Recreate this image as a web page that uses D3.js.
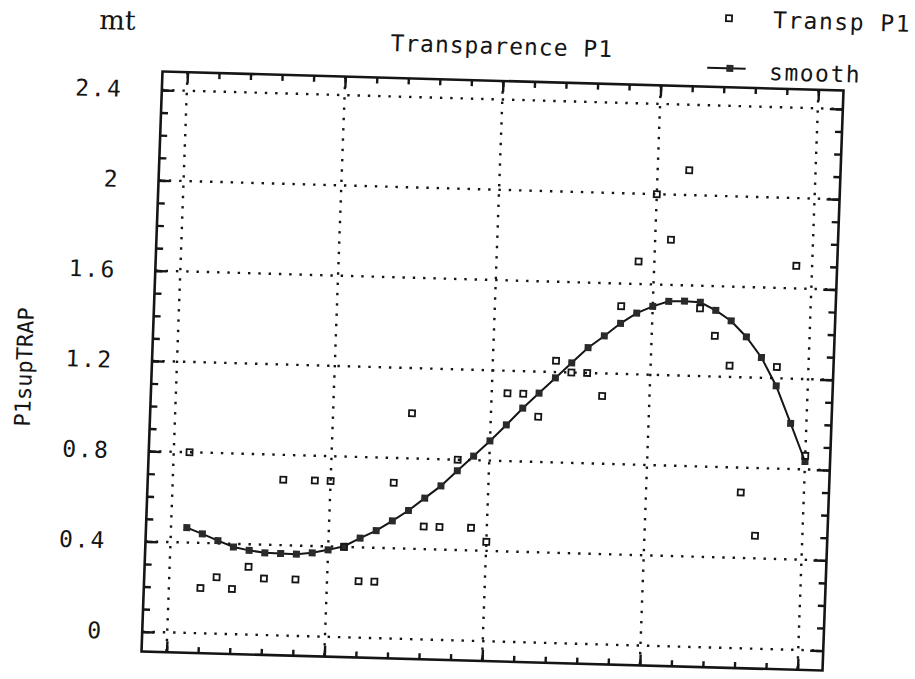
<!DOCTYPE html>
<html>
<head>
<meta charset="utf-8">
<script src="https://cdn.jsdelivr.net/npm/d3@7/dist/d3.min.js"></script>
<style>
  html, body { margin: 0; padding: 0; background: #fff; }
  svg { display: block; }
</style>
</head>
<body>
<svg id="chart" width="915" height="679"></svg>
<script>
// ---- data ----
const obsIndex = [1,2,3,4,5,6,7,8,9,10,11,12,13,14,15,16,17,18,19,20,
                  21,22,23,24,25,26,27,28,29,30,31,32,33,34,35,36,37,38,39,40];
const transpP1 = [0.80,0.20,0.25,0.20,0.30,0.25,0.69,0.25,0.69,0.69,
                  0.40,0.25,0.25,0.69,1.00,0.50,0.50,0.80,0.50,0.44,
                  1.10,1.10,1.00,1.25,1.20,1.20,1.10,1.50,1.70,2.00,
                  1.80,2.11,1.50,1.38,1.25,0.69,0.50,1.25,1.70,0.86];
const smoothP1 = [0.466,0.440,0.412,0.386,0.373,0.364,0.363,0.362,0.370,0.385,
                  0.403,0.441,0.476,0.521,0.569,0.626,0.682,0.751,0.818,0.887,
                  0.960,1.036,1.105,1.174,1.243,1.312,1.366,1.424,1.471,1.503,
                  1.527,1.530,1.527,1.493,1.448,1.379,1.290,1.166,1.002,0.835];
const yMajorTicks = [0, 0.4, 0.8, 1.2, 1.6, 2, 2.4];
const yTickLabels = ["0", "0.4", "0.8", "1.2", "1.6", "2", "2.4"];
const yMinorTicks = [0,0.1,0.2,0.3,0.4,0.5,0.6,0.7,0.8,0.9,1.0,1.1,1.2,1.3,1.4,1.5,1.6,1.7,1.8,1.9,2.0,2.1,2.2,2.3,2.4];
const xMajorTicks = [0, 10, 20, 30, 40];
const xMinorTicks = [0,2,4,6,8,10,12,14,16,18,20,22,24,26,28,30,32,34,36,38,40];
const titleText = "Transparence P1";
const yLabelText = "P1supTRAP";
const unitText = "mt";
const seriesNames = ["Transp P1", "smooth"];

// ---- layout ----
const W = 681, H = 580;
const ink = "#151515";
const svg = d3.select("#chart");
svg.append("rect").attr("width", 915).attr("height", 679).attr("fill", "#fff");

// scanned page is slightly rotated / skewed
const g = svg.append("g").attr("transform", "matrix(1,0.0279,-0.0362,1,162.5,71.5)");

const x = d3.scaleLinear().domain([-1.585, 41.585]).range([0, W]);
const y = d3.scaleLinear().domain([-0.088, 2.482]).range([H, 0]);

// grid (dotted)
const grid = g.append("g").attr("stroke", ink).attr("stroke-width", 2.4)
  .attr("stroke-dasharray", "2.4,7.9").attr("fill", "none");
grid.selectAll("line.h").data(yMajorTicks).join("line")
  .attr("x1", 0).attr("x2", W).attr("y1", d => y(d)).attr("y2", d => y(d));
grid.selectAll("line.v").data(xMajorTicks).join("line")
  .attr("y1", 0).attr("y2", H).attr("x1", d => x(d)).attr("x2", d => x(d));

// smooth line
const line = d3.line().x((d, i) => x(obsIndex[i])).y(d => y(d));
g.append("path").datum(smoothP1).attr("d", line)
  .attr("fill", "none").attr("stroke", ink).attr("stroke-width", 2);
g.append("g").selectAll("rect").data(smoothP1).join("rect")
  .attr("x", (d, i) => x(obsIndex[i]) - 3.5).attr("y", d => y(d) - 3.5)
  .attr("width", 7).attr("height", 7).attr("fill", "#2a2a2a");

// scatter
g.append("g").selectAll("rect").data(transpP1).join("rect")
  .attr("x", (d, i) => x(obsIndex[i]) - 3).attr("y", d => y(d) - 3)
  .attr("width", 6).attr("height", 6).attr("fill", "none")
  .attr("stroke", ink).attr("stroke-width", 1.8);

// axes with inward ticks
function styleAxis(sel) {
  sel.select(".domain").remove();
  sel.selectAll(".tick line").attr("stroke", ink).attr("stroke-width", 2.4);
}
const fontMono = "'DejaVu Sans Mono', monospace";

g.append("g").call(d3.axisLeft(y).tickValues(yMinorTicks).tickSize(-7).tickFormat("")).call(styleAxis);
const yl = g.append("g").call(d3.axisLeft(y).tickValues(yMajorTicks).tickSize(-12).tickPadding(39)
  .tickFormat((d, i) => yTickLabels[i])).call(styleAxis);
yl.selectAll("text").attr("font-family", fontMono).attr("font-size", 23)
  .attr("letter-spacing", 2).attr("fill", ink);

g.append("g").attr("transform", `translate(${W},0)`)
  .call(d3.axisRight(y).tickValues(yMinorTicks).tickSize(-7).tickFormat("")).call(styleAxis);
g.append("g").attr("transform", `translate(${W},0)`)
  .call(d3.axisRight(y).tickValues(yMajorTicks).tickSize(-13).tickFormat("")).call(styleAxis);

g.append("g").call(d3.axisTop(x).tickValues(xMinorTicks).tickSize(-6).tickFormat("")).call(styleAxis);
g.append("g").call(d3.axisTop(x).tickValues(xMajorTicks).tickSize(-11).tickFormat("")).call(styleAxis);
g.append("g").attr("transform", `translate(0,${H})`)
  .call(d3.axisBottom(x).tickValues(xMinorTicks).tickSize(-6).tickFormat("")).call(styleAxis);
g.append("g").attr("transform", `translate(0,${H})`)
  .call(d3.axisBottom(x).tickValues(xMajorTicks).tickSize(-11).tickFormat("")).call(styleAxis);

// frame
g.append("rect").attr("x", 0).attr("y", 0).attr("width", W).attr("height", H)
  .attr("fill", "none").attr("stroke", ink).attr("stroke-width", 2.6);

// texts
g.append("text").attr("x", -65).attr("y", -40.8).text(unitText)
  .attr("font-family", "'DejaVu Serif', serif").attr("font-size", 27).attr("fill", ink);
g.append("text").attr("x", 338).attr("y", -26.8).attr("text-anchor", "middle").text(titleText)
  .attr("font-family", fontMono).attr("font-size", 23).attr("letter-spacing", 1).attr("fill", ink);
g.append("text").attr("transform", "translate(-119.8,299) rotate(-90)").attr("text-anchor", "middle")
  .text(yLabelText).attr("font-family", fontMono).attr("font-size", 22).attr("fill", ink);

// legend
const lg = g.append("g");
lg.append("rect").attr("x", 564 - 3).attr("y", -69 - 3).attr("width", 6).attr("height", 6)
  .attr("fill", "none").attr("stroke", ink).attr("stroke-width", 1.8);
lg.append("text").attr("x", 608).attr("y", -60.5).text(seriesNames[0])
  .attr("font-family", fontMono).attr("font-size", 23).attr("letter-spacing", 1.5).attr("fill", ink);
lg.append("line").attr("x1", 544).attr("x2", 582.5).attr("y1", -19).attr("y2", -19)
  .attr("stroke", ink).attr("stroke-width", 2);
lg.append("rect").attr("x", 566.7 - 3.5).attr("y", -19 - 3.5).attr("width", 7).attr("height", 7)
  .attr("fill", "#2a2a2a");
lg.append("text").attr("x", 606).attr("y", -8.4).text(seriesNames[1])
  .attr("font-family", fontMono).attr("font-size", 23).attr("letter-spacing", 1.5).attr("fill", ink);
</script>
</body>
</html>
